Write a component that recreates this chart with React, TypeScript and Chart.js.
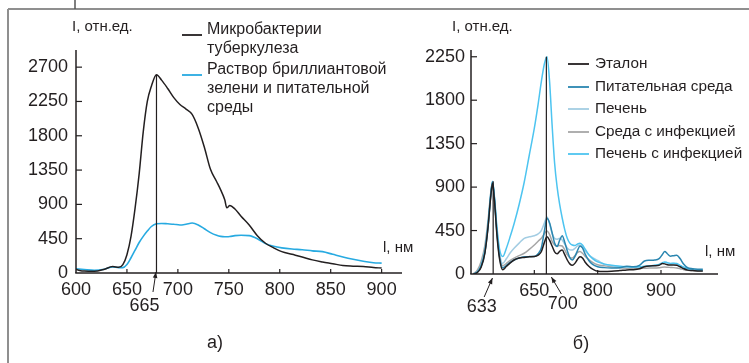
import React, { useEffect, useRef } from "react";
import { Chart, registerables } from "chart.js";

Chart.register(...registerables);

const PAGE_W = 749;
const PAGE_H = 363;
const FONT = "'Liberation Sans', Arial, sans-serif";
const INK = "#231f20";

// ---------------- Panel а) ----------------
const wavelengthA = [600, 608, 618, 628, 636, 642, 646, 650, 654, 658, 662, 666, 670, 674, 679, 684, 690, 696, 702, 708, 714, 720, 726, 732, 738, 742, 746, 748, 751, 756, 762, 770, 778, 786, 794, 802, 812, 822, 832, 842, 852, 862, 872, 882, 892, 900];
const mycobacteria = [45, 25, 22, 50, 85, 75, 110, 240, 480, 850, 1300, 1850, 2250, 2450, 2600, 2530, 2420, 2300, 2210, 2150, 2080, 1900, 1650, 1360, 1200, 1090, 960, 855, 885, 840, 745, 630, 490, 390, 330, 280, 245, 210, 172, 145, 122, 98, 90, 85, 72, 65];
const brilliantGreen = [55, 45, 35, 50, 80, 70, 70, 110, 200, 300, 400, 480, 550, 610, 645, 650, 645, 640, 630, 640, 655, 630, 580, 530, 495, 480, 475, 475, 478, 490, 495, 490, 450, 385, 350, 330, 315, 305, 290, 280, 245, 210, 180, 155, 135, 130];
const yTicksA = [0, 450, 900, 1350, 1800, 2250, 2700];
const xTicksA = [600, 650, 700, 750, 800, 850, 900];
const legendNamesA = [["Микробактерии", "туберкулеза"], ["Раствор бриллиантовой", "зелени и питательной", "среды"]];
const peakA = { x: 679, y: 2600, label: "665" };

// ---------------- Panel б) ----------------
const wavelengthB = [604, 610, 616, 622, 627, 631, 634, 637, 641, 645, 650, 656, 662, 668, 676, 684, 692, 700, 706, 711, 716, 720, 724, 728, 732, 736, 740, 744, 748, 752, 756, 760, 764, 768, 772, 776, 780, 786, 792, 800, 810, 822, 835, 846, 856, 866, 874, 882, 890, 897, 902, 906, 910, 915, 920, 925, 930, 936, 942, 950, 958, 966];
const etalon = [0, 15, 70, 220, 490, 790, 940, 760, 400, 160, 45, 80, 115, 145, 165, 172, 178, 180, 195, 230, 330, 385, 350, 290, 230, 210, 235, 248, 200, 145, 105, 90, 110, 150, 178, 165, 125, 80, 50, 28, 25, 28, 35, 42, 45, 55, 75, 83, 85, 90, 108, 105, 95, 92, 93, 90, 75, 55, 40, 35, 32, 30];
const nutrientMedium = [0, 20, 80, 230, 500, 800, 950, 780, 420, 180, 65, 90, 120, 145, 165, 178, 180, 182, 210, 270, 450, 577, 530, 430, 320, 285, 350, 397, 330, 240, 170, 145, 180, 240, 290, 270, 210, 140, 100, 76, 66, 62, 65, 80, 75, 90, 135, 142, 145, 160, 200, 232, 210, 185, 190, 195, 160, 100, 65, 55, 50, 48];
const liver = [0, 20, 80, 230, 500, 800, 950, 780, 440, 220, 110, 160, 220, 266, 320, 370, 385, 397, 415, 450, 530, 590, 520, 420, 370, 360, 370, 352, 310, 270, 250, 248, 265, 290, 300, 280, 240, 200, 170, 140, 100, 85, 78, 72, 70, 72, 78, 82, 88, 95, 110, 120, 112, 105, 108, 104, 88, 68, 52, 42, 38, 36];
const mediumInfected = [5, 40, 130, 300, 560, 830, 955, 780, 450, 200, 85, 110, 140, 165, 190, 215, 255, 300, 340, 370, 420, 446, 410, 340, 300, 290, 295, 290, 250, 200, 170, 165, 190, 220, 232, 215, 185, 150, 120, 95, 85, 75, 65, 60, 58, 58, 60, 62, 62, 65, 70, 72, 70, 68, 66, 62, 55, 45, 40, 35, 32, 30];
const liverInfected = [0, 20, 90, 250, 520, 820, 960, 800, 480, 260, 180, 270, 390, 520, 720, 950, 1230, 1510, 1760, 1990, 2180, 2250, 2000, 1550, 1150, 900, 720, 580, 460, 370, 320, 300, 295, 310, 318, 300, 260, 200, 160, 125, 105, 90, 80, 75, 72, 75, 80, 85, 90, 100, 115, 125, 118, 110, 112, 108, 90, 70, 55, 45, 40, 38];
const yTicksB = [0, 450, 900, 1350, 1800, 2250];
const xTickValuesB = [700, 800, 900];
const xTickLabelsB = ["650", "800", "900"];
const legendNamesB = ["Эталон", "Питательная среда", "Печень", "Среда с инфекцией", "Печень с инфекцией"];
const peaksB = [
  { x: 635, y: 960, label: "633" },
  { x: 719, y: 2250, label: "700" },
];

const COL = {
  black: INK,
  cyanA: "#27aae1",
  teal: "#2a86b0",
  liver: "#a3cde3",
  gray: "#a6a6a6",
  sky: "#4dc4f0",
};

type Callout = { x: number; y: number; label: string; tip: number[]; tail: number[]; text: number[] };
type TextItem = { text: string; x: number; y: number; size: number; align: CanvasTextAlign };
type LegendEntry = { color: string; lines: string[]; y: number; sampleDy: number };
type Decor = {
  frame: boolean;
  xTicks: number[];
  yTicks: number[];
  xTickLen: number;
  yTickLen: number;
  callouts: Callout[];
  legend: { x0: number; x1: number; textX: number; lineH: number; size: number; entries: LegendEntry[] };
  texts: TextItem[];
};

function makeDecor(id: string, d: Decor) {
  return {
    id,
    afterDraw(chart: any) {
      const ctx: CanvasRenderingContext2D = chart.ctx;
      const ca = chart.chartArea;
      const xs = chart.scales.x;
      const ys = chart.scales.y;
      const seg = (x1: number, y1: number, x2: number, y2: number, color: string, w: number) => {
        ctx.beginPath();
        ctx.strokeStyle = color;
        ctx.lineWidth = w;
        ctx.moveTo(x1, y1);
        ctx.lineTo(x2, y2);
        ctx.stroke();
      };
      ctx.save();
      if (d.frame) {
        seg(8, 9, 8, PAGE_H, "#8f8f8f", 2);
        seg(8, 9, PAGE_W, 9, "#8f8f8f", 2);
        seg(75, 0, 75, 9, "#555555", 1.5);
      }
      // axes
      seg(ca.left, ca.top, ca.left, ca.bottom, INK, 1.5);
      seg(ca.left - 0.75, ca.bottom, ca.right, ca.bottom, INK, 1.5);
      d.xTicks.forEach((v) => {
        const p = xs.getPixelForValue(v);
        if (p > ca.left + 2) seg(p, ca.bottom, p, ca.bottom - d.xTickLen, INK, 1.2);
      });
      d.yTicks.forEach((v) => {
        const p = ys.getPixelForValue(v);
        if (p < ca.bottom - 2) seg(ca.left, p, ca.left + d.yTickLen, p, INK, 1.2);
      });
      // peak markers + callouts
      d.callouts.forEach((c) => {
        const px = xs.getPixelForValue(c.x);
        const py = ys.getPixelForValue(c.y);
        seg(px, ca.bottom, px, py, INK, 1.2);
        const tx = px + c.tip[0], ty = ca.bottom + c.tip[1];
        const sx = px + c.tail[0], sy = ca.bottom + c.tail[1];
        seg(sx, sy, tx, ty, INK, 1);
        const ang = Math.atan2(ty - sy, tx - sx);
        const L = 6, Wd = 2.3;
        ctx.beginPath();
        ctx.fillStyle = INK;
        ctx.moveTo(tx, ty);
        ctx.lineTo(tx - L * Math.cos(ang) + Wd * Math.sin(ang), ty - L * Math.sin(ang) - Wd * Math.cos(ang));
        ctx.lineTo(tx - L * Math.cos(ang) - Wd * Math.sin(ang), ty - L * Math.sin(ang) + Wd * Math.cos(ang));
        ctx.closePath();
        ctx.fill();
        ctx.font = `18px ${FONT}`;
        ctx.textAlign = "center";
        ctx.textBaseline = "middle";
        ctx.fillText(c.label, px + c.text[0], ca.bottom + c.text[1]);
      });
      // legend
      const lg = d.legend;
      lg.entries.forEach((e) => {
        seg(lg.x0, e.y + e.sampleDy, lg.x1, e.y + e.sampleDy, e.color, 1.8);
        ctx.font = `${lg.size}px ${FONT}`;
        ctx.fillStyle = INK;
        ctx.textAlign = "left";
        ctx.textBaseline = "middle";
        e.lines.forEach((t, i) => ctx.fillText(t, lg.textX, e.y + i * lg.lineH));
      });
      // free texts
      d.texts.forEach((t) => {
        ctx.font = `${t.size}px ${FONT}`;
        ctx.fillStyle = INK;
        ctx.textAlign = t.align;
        ctx.textBaseline = "middle";
        ctx.fillText(t.text, t.x, t.y);
      });
      ctx.restore();
    },
  };
}

type Series = { name: string; values: number[]; color: string; width: number; order: number };
type PanelCfg = {
  id: string;
  x: number[];
  series: Series[];
  xMin: number; xMax: number; yMax: number;
  xTicks: number[]; xLabels: string[]; yTicks: number[];
  area: { left: number; right: number; top: number; bottom: number };
  yPad: number; xPad: number;
  decor: Decor;
};

const Y_W = 60;
const X_H = 40;

function buildConfig(p: PanelCfg): any {
  return {
    type: "line",
    data: {
      datasets: p.series.map((s) => ({
        label: s.name,
        data: p.x.map((x, i) => ({ x, y: s.values[i] })),
        borderColor: s.color,
        borderWidth: s.width,
        pointRadius: 0,
        fill: false,
        cubicInterpolationMode: "monotone",
        order: s.order,
      })),
    },
    options: {
      responsive: false,
      animation: false,
      events: [],
      layout: {
        padding: {
          left: p.area.left - Y_W,
          right: PAGE_W - p.area.right,
          top: p.area.top,
          bottom: PAGE_H - p.area.bottom - X_H,
        },
      },
      plugins: { legend: { display: false }, tooltip: { enabled: false }, title: { display: false } },
      scales: {
        x: {
          type: "linear",
          min: p.xMin,
          max: p.xMax,
          afterFit: (s: any) => { s.height = X_H; },
          afterBuildTicks: (s: any) => { s.ticks = p.xTicks.map((v) => ({ value: v })); },
          ticks: {
            autoSkip: false,
            maxRotation: 0,
            padding: p.xPad,
            color: INK,
            font: { family: FONT, size: 18 },
            callback: (v: number) => {
              const i = p.xTicks.indexOf(v);
              return i >= 0 ? p.xLabels[i] : "";
            },
          },
          grid: { display: false, drawTicks: false },
          border: { display: false },
        },
        y: {
          type: "linear",
          min: 0,
          max: p.yMax,
          afterFit: (s: any) => { s.width = Y_W; },
          afterBuildTicks: (s: any) => { s.ticks = p.yTicks.map((v) => ({ value: v })); },
          ticks: {
            padding: p.yPad,
            color: INK,
            font: { family: FONT, size: 18 },
            callback: (v: number) => String(v),
          },
          grid: { display: false, drawTicks: false },
          border: { display: false },
        },
      },
    },
    plugins: [makeDecor(p.id, p.decor)],
  };
}

const panelA: PanelCfg = {
  id: "decorA",
  x: wavelengthA,
  series: [
    { name: legendNamesA[0].join(" "), values: mycobacteria, color: COL.black, width: 1.5, order: 0 },
    { name: legendNamesA[1].join(" "), values: brilliantGreen, color: COL.cyanA, width: 1.6, order: 1 },
  ],
  xMin: 600, xMax: 920, yMax: 2925,
  xTicks: xTicksA, xLabels: xTicksA.map(String), yTicks: yTicksA,
  area: { left: 76, right: 402, top: 50, bottom: 273 },
  yPad: 8, xPad: 6,
  decor: {
    frame: true,
    xTicks: xTicksA, yTicks: yTicksA, xTickLen: 4, yTickLen: 6,
    callouts: [{ ...peakA, tip: [-0.5, -1], tail: [-3.5, 19], text: [-12, 33] }],
    legend: {
      x0: 182, x1: 202, textX: 207, lineH: 19, size: 16,
      entries: [
        { color: COL.black, lines: legendNamesA[0], y: 30, sampleDy: 5 },
        { color: COL.cyanA, lines: legendNamesA[1], y: 70, sampleDy: 5 },
      ],
    },
    texts: [
      { text: "I, отн.ед.", x: 72, y: 27, size: 15, align: "left" },
      { text: "l, нм", x: 383, y: 248, size: 15, align: "left" },
      { text: "а)", x: 215, y: 343, size: 18, align: "center" },
    ],
  },
};

const panelB: PanelCfg = {
  id: "decorB",
  x: wavelengthB,
  series: [
    { name: legendNamesB[0], values: etalon, color: COL.black, width: 1.5, order: 0 },
    { name: legendNamesB[1], values: nutrientMedium, color: COL.teal, width: 1.5, order: 1 },
    { name: legendNamesB[2], values: liver, color: COL.liver, width: 1.5, order: 3 },
    { name: legendNamesB[3], values: mediumInfected, color: COL.gray, width: 1.5, order: 4 },
    { name: legendNamesB[4], values: liverInfected, color: COL.sky, width: 1.5, order: 2 },
  ],
  xMin: 600, xMax: 990, yMax: 2320,
  xTicks: xTickValuesB, xLabels: xTickLabelsB, yTicks: yTicksB,
  area: { left: 471, right: 718, top: 50, bottom: 274 },
  yPad: 6, xPad: 6,
  decor: {
    frame: false,
    xTicks: xTickValuesB, yTicks: yTicksB, xTickLen: 4, yTickLen: 6,
    callouts: [
      { ...peaksB[0], tip: [-0.7, 4], tail: [-9, 23], text: [-11.5, 33] },
      { ...peaksB[1], tip: [5, 3], tail: [15, 20], text: [16.5, 30] },
    ],
    legend: {
      x0: 568, x1: 589, textX: 595, lineH: 19, size: 15.3,
      entries: [
        { color: COL.black, lines: [legendNamesB[0]], y: 64, sampleDy: 0 },
        { color: COL.teal, lines: [legendNamesB[1]], y: 87, sampleDy: 0 },
        { color: COL.liver, lines: [legendNamesB[2]], y: 109, sampleDy: 0 },
        { color: COL.gray, lines: [legendNamesB[3]], y: 132, sampleDy: 0 },
        { color: COL.sky, lines: [legendNamesB[4]], y: 154, sampleDy: 0 },
      ],
    },
    texts: [
      { text: "I, отн.ед.", x: 452, y: 27, size: 15, align: "left" },
      { text: "l, нм", x: 705, y: 252, size: 15, align: "left" },
      { text: "б)", x: 581, y: 344, size: 18, align: "center" },
    ],
  },
};

export default function App() {
  const refA = useRef<HTMLCanvasElement>(null);
  const refB = useRef<HTMLCanvasElement>(null);
  useEffect(() => {
    const a = new Chart(refA.current as HTMLCanvasElement, buildConfig(panelA));
    const b = new Chart(refB.current as HTMLCanvasElement, buildConfig(panelB));
    return () => {
      a.destroy();
      b.destroy();
    };
  }, []);
  const cs: React.CSSProperties = { position: "absolute", left: 0, top: 0, width: PAGE_W, height: PAGE_H };
  return (
    <div style={{ position: "fixed", left: 0, top: 0, width: PAGE_W, height: PAGE_H, background: "#fff" }}>
      <canvas ref={refA} width={PAGE_W} height={PAGE_H} style={cs} />
      <canvas ref={refB} width={PAGE_W} height={PAGE_H} style={cs} />
    </div>
  );
}
